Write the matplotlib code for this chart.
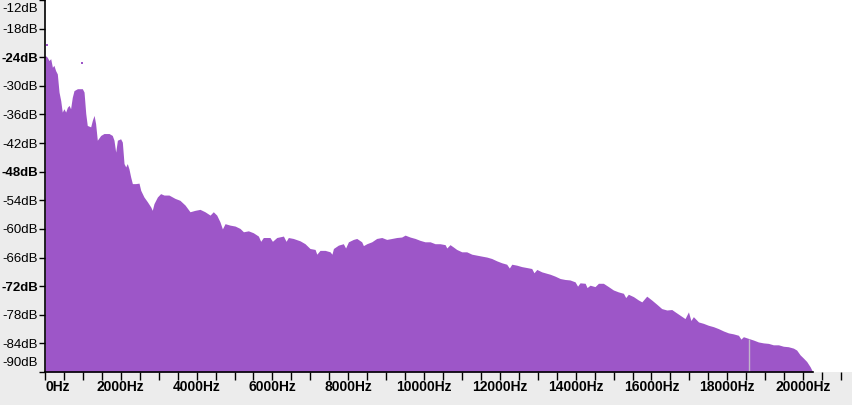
import numpy as np
import matplotlib
matplotlib.use("Agg")
import matplotlib.pyplot as plt
from matplotlib.transforms import ScaledTranslation

# spectrum envelope (Hz, dB)
freq = [0, 60, 105, 150, 195, 235, 280, 325, 370, 415, 455, 500, 545, 590, 635, 675,
        720, 765, 855, 985, 1030, 1075, 1115, 1205, 1250, 1295, 1335, 1380, 1470, 1555,
        1690, 1775, 1820, 1865, 1910, 1995, 2040, 2085, 2130, 2170, 2215, 2260, 2305,
        2390, 2480, 2525, 2610, 2700, 2790, 2830, 2875, 2965, 3050, 3140, 3270,
        3430, 3560, 3695, 3825, 3960, 4090, 4220, 4355, 4440, 4530, 4615, 4750, 4880,
        5015, 5145, 5235, 5365, 5495, 5630, 5760, 5935, 6115, 6290, 6420, 6550,
        6730, 6860, 6990, 7125, 7255, 7390, 7520, 7610, 7740, 7870, 8005, 8135, 8225,
        8355, 8490, 8620, 8750, 8885, 9015, 9150, 9280, 9410, 9500, 9630, 9765, 9895,
        10025, 10160, 10290, 10420, 10555, 10685, 10775, 10860, 10995, 11125, 11260,
        11390, 11520, 11655, 11785, 11920, 12050, 12180, 12315, 12445, 12575, 12710,
        12840, 12975, 13105, 13235,
        13325, 13455, 13590, 13720, 13850, 13985, 14115, 14250, 14380, 14510, 14600,
        14730, 14865, 14995, 15125, 15260, 15390, 15525, 15655, 15745, 15875, 16005,
        16140, 16270, 16405,
        16535, 16625, 16755, 16885, 16975, 17105, 17240, 17370, 17500, 17635, 17765,
        17900, 18030, 18160, 18295, 18425, 18575, 18690, 18820, 18955, 19085, 19215,
        19350, 19480, 19610, 19745, 19830, 19920, 20010, 20095, 20185, 20255]
level = [-23.6, -24.0, -24.7, -24.3, -26.1, -25.7, -26.8, -27.5, -31.3, -33.1, -35.5, -34.8,
         -35.5, -34.5, -34.1, -34.8, -32.4, -31.0, -30.6, -30.6, -31.3, -35.8, -38.3, -38.6,
         -37.2, -36.2, -37.9, -41.4, -40.4, -40.0, -40.0, -40.4, -41.4, -43.9, -41.4, -41.1,
         -41.8, -46.3, -47.0, -46.3, -47.4, -49.1, -50.5, -50.5, -50.4, -51.9, -53.3, -54.3,
         -55.4, -56.1, -54.7, -53.3, -52.6, -52.9, -52.9,
         -53.6, -54.0, -55.0, -56.4, -56.1, -55.9, -56.4, -57.1, -56.4, -57.1, -58.5, -58.9,
         -59.2, -59.4, -59.9, -60.6, -60.4, -60.8, -61.5, -61.8, -61.8, -61.8, -61.5, -61.8,
         -62.0,
         -62.5, -63.1, -64.1, -64.3, -64.5, -64.5, -64.8, -64.1, -63.4, -63.1, -62.7, -62.2,
         -62.0, -62.7, -63.1, -62.7, -62.0, -61.8, -62.2, -62.0, -61.8, -61.7, -61.3, -61.7,
         -62.0, -62.4,
         -62.7, -62.7, -63.1, -63.1, -63.3, -63.3, -63.8, -64.3, -64.8, -64.8, -65.3, -65.5,
         -65.7, -65.9, -66.2, -66.7, -67.1, -67.4, -67.4, -67.6, -67.9, -68.1, -68.3, -68.5,
         -69.0, -69.3,
         -69.5, -69.9, -70.4, -70.6, -70.7, -71.1, -71.3, -71.4, -71.8, -72.1, -71.4, -71.4,
         -72.1, -72.8, -73.2, -73.5, -73.7, -74.2, -74.9, -75.3, -74.1, -74.9, -75.8, -76.7,
         -77.0,
         -76.9, -77.4, -78.1, -78.8, -77.4, -78.4, -79.5, -79.8, -80.2, -80.5, -80.9, -81.4,
         -81.8, -82.0, -82.3, -82.6, -83.0, -83.3, -83.7, -83.9, -84.0, -84.3, -84.3, -84.6,
         -84.7, -85.0, -85.4, -86.4, -87.1, -87.8, -88.9, -90.0]

# narrow dips in the envelope
notch_freq = [4680, 5690, 6000, 6360, 7170, 7570, 7930, 8400, 10600, 12250, 12900,
              14050, 14300, 15320, 17040, 18360]
notch_level = [-60.0, -62.6, -62.6, -62.6, -65.3, -65.3, -64.0, -63.5, -64.0, -68.2,
               -69.2, -72.0, -72.3, -74.4, -79.2, -83.1]

# stray single-bin peaks
peak_freq = [45, 985]
peak_level = [-21.4, -25.3]

# cursor line
cursor_freq = 18575
cursor_level = -83.0

db_ticks = list(range(-12, -91, -6))
db_labels = [f"{v}dB" for v in db_ticks]
bold_db = [-24, -48, -72]
hz_ticks = list(range(0, 21001, 500))
hz_labels = [f"{v}Hz" if v % 2000 == 0 else "" for v in hz_ticks]

purple = "#9d56c8"
panel_grey = "#ececec"

plt.rcParams["font.family"] = ["Liberation Sans", "DejaVu Sans"]

env = sorted(zip(freq + notch_freq, level + notch_level))
env_f = [p[0] for p in env]
env_l = [p[1] for p in env]

fig = plt.figure(figsize=(8.52, 4.05), dpi=100, facecolor=panel_grey)
ax = fig.add_axes([45 / 852, 33 / 405, 1 - 45 / 852, 1 - 33 / 405])
ax.set_facecolor("white")

ax.fill_between(env_f, env_l, -90, color=purple, linewidth=0)
ax.scatter(peak_freq, peak_level, s=3, marker="s", color=purple, linewidths=0)
ax.vlines(cursor_freq, -90, cursor_level, color="#c2b5cc", linewidth=1)

ax.set_xlim(0, 21290)
ax.set_ylim(-90, -12)

for side in ["top", "right"]:
    ax.spines[side].set_visible(False)
ax.spines["bottom"].set_bounds(0, 20260)
for side in ["left", "bottom"]:
    ax.spines[side].set_color("black")
    ax.spines[side].set_linewidth(1.2)

ax.set_yticks(db_ticks)
ax.set_yticklabels(db_labels)
ax.set_xticks(hz_ticks)
ax.set_xticklabels(hz_labels)
ax.tick_params(axis="y", length=4, width=1, pad=1, labelsize=9.5, colors="black")
ax.tick_params(axis="x", length=6, width=1, pad=0, labelsize=10, colors="black")

for lab, v in zip(ax.get_yticklabels(), db_ticks):
    if v in bold_db:
        lab.set_fontweight("bold")
    if v == -12:
        lab.set_va("top")
        lab.set_transform(lab.get_transform() + ScaledTranslation(0, -0.025, fig.dpi_scale_trans))
    if v == -90:
        lab.set_va("bottom")
        lab.set_transform(lab.get_transform() + ScaledTranslation(0, 0.03, fig.dpi_scale_trans))

for lab, v in zip(ax.get_xticklabels(), hz_ticks):
    lab.set_fontweight("bold")
    if v == 0:
        lab.set_ha("left")

fig.savefig("out.png", dpi=100, facecolor=panel_grey)
